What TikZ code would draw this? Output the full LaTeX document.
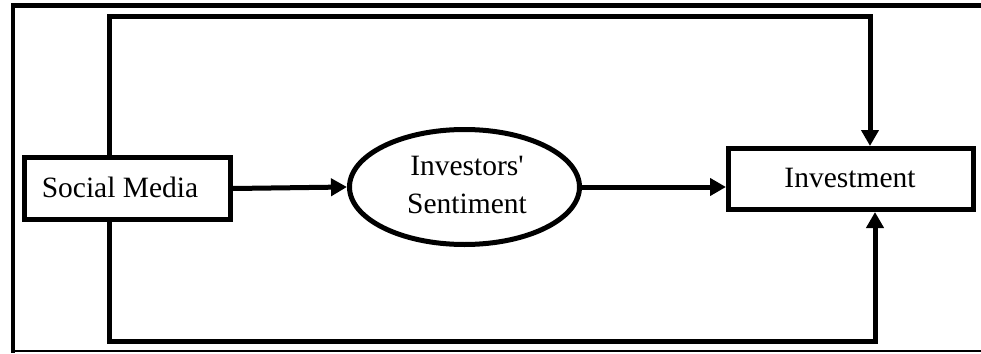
\documentclass[tikz,border=0pt]{standalone}
\usepackage{fontspec}
\setmainfont{Liberation Serif}
\usetikzlibrary{arrows.meta,shapes.geometric}
\begin{document}
\begin{tikzpicture}[x=1pt,y=-1pt,
  box/.style={draw,line width=5pt,rectangle,inner sep=0pt},
  oval/.style={draw,line width=5pt,ellipse,inner sep=0pt},
  conn/.style={line width=5pt,-{Triangle[length=16pt,width=17pt]}},
  lbl/.style={font=\fontsize{29.5}{38}\selectfont,align=center}]
\useasboundingbox (0,0) rectangle (981,353);
% frame
\draw[line width=5pt] (11,6) -- (981,6);
\draw[line width=4.5pt] (13,4) -- (13,353);
\draw[line width=2pt] (13,351) -- (981,351);
% nodes
\node[box,minimum width=206pt,minimum height=62pt] (SM) at (127.5,188.5) {};
\node[lbl] (SMt) at (120,187) {Social Media};
\node[box,minimum width=245pt,minimum height=61pt] (Inv) at (851,179) {};
\node[lbl] (Invt) at (850,178) {Investment};
\node[oval,minimum width=230pt,minimum height=115pt] (Sent) at (464.5,187) {};
\node[lbl] (Sentt) at (467,185) {Investors\textquotesingle\\Sentiment};
% connectors
\coordinate (tl) at (109,17);
\coordinate (tr) at (870,17);
\coordinate (bl) at (109,341);
\coordinate (br) at (875,341);
\draw[conn] (SM.north -| tl) -- (tl) -- (tr) -- (Inv.north -| tr);
\draw[conn] (SM.south -| bl) -- (bl) -- (br) -- (Inv.south -| br);
\draw[conn] (SM.east) -- (Sent.west);
\draw[conn] (Sent.east) -- (Sent.east -| Inv.west);
\end{tikzpicture}
\end{document}
